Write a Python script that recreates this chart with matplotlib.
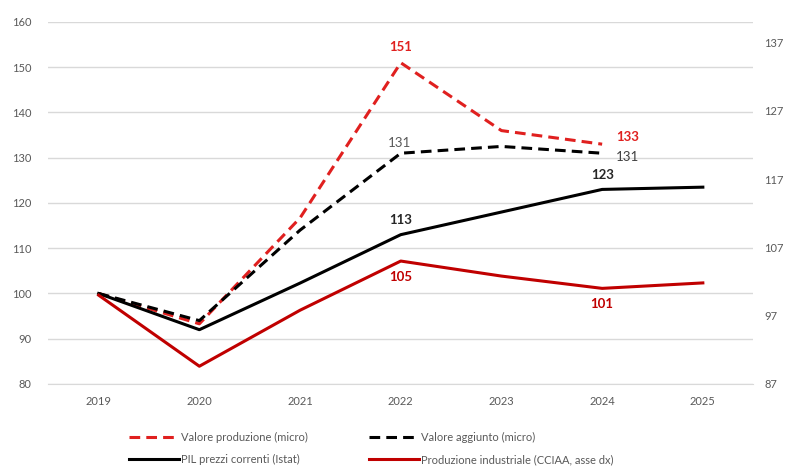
import matplotlib.pyplot as plt

plt.rcParams['font.family'] = ['Lato', 'DejaVu Sans']

years = ["2019", "2020", "2021", "2022", "2023", "2024", "2025"]

# valori indice 2019 = 100
valore_produzione = [100, 93.3, 116.7, 151, 136, 133]
valore_aggiunto = [100, 94, 114, 131, 132.5, 131]
pil = [100, 92, 102.3, 113, 118, 123, 123.5]
prod_industriale = [100, 89.6, 97.8, 105, 102.8, 101, 101.8]  # asse dx

red_dash = "#E0201F"
red = "#C00000"
grey_txt = "#595959"

fig = plt.figure(figsize=(7.92, 4.68), dpi=100)
ax = fig.add_axes([0.061, 0.1795, 0.89, 0.7735])
ax2 = ax.twinx()

x = list(range(len(years)))

l_vp, = ax.plot(x[:len(valore_produzione)], valore_produzione, color=red_dash, lw=2.2,
                ls=(0, (3.5, 2)), label="Valore produzione (micro)")
l_va, = ax.plot(x[:len(valore_aggiunto)], valore_aggiunto, color="black", lw=2.2,
                ls=(0, (3.5, 2)), label="Valore aggiunto (micro)")
l_pil, = ax.plot(x, pil, color="black", lw=2.2, label="PIL prezzi correnti (Istat)")
l_pi, = ax2.plot(x, prod_industriale, color=red, lw=2.2,
                 label="Produzione industriale (CCIAA, asse dx)")

ax.set_xlim(-0.5, 6.5)
ax.set_ylim(80, 160)
ax.set_yticks(range(80, 161, 10))
ax2.set_ylim(87, 140)
ax2.set_yticks(range(87, 138, 10))

ax.set_xticks(x)
ax.set_xticklabels(years)
ax.grid(axis="y", color="#D9D9D9", lw=1)
ax.set_axisbelow(True)

for a in (ax, ax2):
    for s in a.spines.values():
        s.set_visible(False)
    a.tick_params(length=0, labelsize=8, labelcolor=grey_txt)
ax.spines["bottom"].set_visible(True)
ax.spines["bottom"].set_color("#D9D9D9")
ax.tick_params(axis="x", pad=9)
ax.tick_params(axis="y", pad=12)
ax2.tick_params(axis="y", pad=8)

# etichette dati
ax.annotate("151", (3, valore_produzione[3]), xytext=(0, 7), textcoords="offset points",
            ha="center", va="bottom", color=red_dash, fontsize=9.5, fontweight="bold")
ax.annotate("133", (5, valore_produzione[5]), xytext=(10, 5), textcoords="offset points",
            ha="left", va="center", color=red_dash, fontsize=9.5, fontweight="bold")
ax.annotate("131", (3, valore_aggiunto[3]), xytext=(-1, 3), textcoords="offset points",
            ha="center", va="bottom", color=grey_txt, fontsize=9.5)
ax.annotate("131", (5, valore_aggiunto[5]), xytext=(10, -3), textcoords="offset points",
            ha="left", va="center", color="#404040", fontsize=9.5)
ax.annotate("113", (3, pil[3]), xytext=(0, 6), textcoords="offset points",
            ha="center", va="bottom", color="#262626", fontsize=9.5, fontweight="bold")
ax.annotate("123", (5, pil[5]), xytext=(0, 6), textcoords="offset points",
            ha="center", va="bottom", color="#262626", fontsize=9.5, fontweight="bold")
ax2.annotate("105", (3, prod_industriale[3]), xytext=(0, -7), textcoords="offset points",
             ha="center", va="top", color=red, fontsize=9.5, fontweight="bold")
ax2.annotate("101", (5, prod_industriale[5]), xytext=(0, -7), textcoords="offset points",
             ha="center", va="top", color=red, fontsize=9.5, fontweight="bold")

# legenda: riga 1 = serie micro, riga 2 = PIL e produzione industriale
handles = [l_vp, l_pil, l_va, l_pi]
fig.legend(handles, [h.get_label() for h in handles], loc="lower left",
           bbox_to_anchor=(0.15, -0.015), ncol=2, frameon=False, fontsize=8,
           labelcolor=grey_txt, handlelength=4.5, handletextpad=0.2,
           columnspacing=5.5, labelspacing=1.0)

fig.savefig("out.png", dpi=100)
